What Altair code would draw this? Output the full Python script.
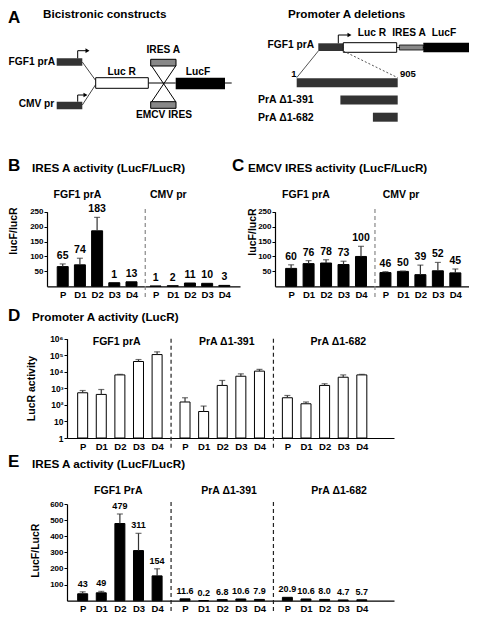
import json
import altair as alt
import numpy as np
import pandas as pd

FONT = "Liberation Sans"
W, H = 461, 605

# ---------------- data ----------------
steps = ["P", "D1", "D2", "D3", "D4"]

# B: IRES A activity (LucF/LucR)
b_groups = ["FGF1 prA", "CMV pr"]
b_val = [[66, 72, 186, 12, 15], [1, 2, 11, 10, 3]]
b_err = [[75, 94, 231, None, None], [None, None, None, None, None]]
b_lab = [["65", "74", "183", "1", "13"], ["1", "2", "11", "10", "3"]]

# C: EMCV IRES activity (LucF/LucR)
c_groups = ["FGF1 prA", "CMV pr"]
c_val = [[60, 76, 78, 73, 100], [46, 50, 39, 52, 45]]
c_err = [[72, 86, 89, 84, 134], [49, 51, 71, 80, 58]]
c_lab = [["60", "76", "78", "73", "100"], ["46", "50", "39", "52", "45"]]

# D: Promoter A activity (LucR), log scale
d_groups = ["FGF1 prA", "PrA  Δ1-391", "PrA  Δ1-682"]
d_val = [[540, 430, 6500, 42000, 110000], [150, 40, 1500, 5400, 11000], [270, 117, 1500, 4700, 6500]]
d_err = [[740, 850, 7000, 55000, 160000], [270, 85, 3000, 7500, 14000], [370, 150, 1900, 6500, 7000]]

# E: IRES A activity (LucF/LucR)
e_groups = ["FGF1 PrA", "PrA  Δ1-391", "PrA  Δ1-682"]
e_val = [[43, 49, 479, 311, 154], [11.6, 0.2, 6.8, 10.6, 7.9], [20.9, 10.6, 8.0, 4.7, 5.7]]
e_err = [[55, 58, 538, 418, 198], [None] * 5, [None] * 5]
e_lab = [["43", "49", "479", "311", "154"], ["11.6", "0.2", "6.8", "10.6", "7.9"],
         ["20.9", "10.6", "8.0", "4.7", "5.7"]]

# A: promoter deletions (bp)
del_names = ["FGF1 prA", "PrA  Δ1-391", "PrA  Δ1-682"]
del_start = [1, 392, 683]
del_end = [905, 905, 905]

log_ticks = [1, 10, 100, 1000, 10000, 100000, 1000000]
log_labels = ["1", "10", "10²", "10³", "10⁴", "10⁵", "10⁶"]


# ---------------- helpers ----------------
def frame(vals, errs, labs, gap):
    rows = []
    for g, vs in enumerate(vals):
        for i, v in enumerate(vs):
            e = errs[g][i]
            rows.append(dict(pos=round(i + g * gap, 2), step=steps[i], val=v,
                             err=np.nan if e is None else e,
                             lab=labs[g][i] if labs else "", base=1))
    df = pd.DataFrame(rows)
    df["top"] = df[["val", "err"]].max(axis=1)
    return df


def T(s, x, y, size=10.5, align="center", baseline="middle", angle=None, weight="bold"):
    kw = dict(align=align, baseline=baseline, fontSize=size, font=FONT,
              fontWeight=weight, color="black")
    if angle is not None:
        kw["angle"] = angle
    return alt.Chart(pd.DataFrame({"t": [s]})).mark_text(**kw).encode(
        x=alt.value(x), y=alt.value(y), text="t:N")


def R(x0, x1, y0, y1, fill, stroke=None, sw=1.0):
    kw = dict(fill=fill)
    if stroke:
        kw.update(stroke=stroke, strokeWidth=sw)
    return alt.Chart(pd.DataFrame({"a": [0]})).mark_rect(**kw).encode(
        x=alt.value(x0), x2=alt.value(x1), y=alt.value(y0), y2=alt.value(y1))


def L(x0, y0, x1, y1, color="black", sw=1.0, dash=None):
    kw = dict(color=color, strokeWidth=sw)
    if dash:
        kw["strokeDash"] = dash
    return alt.Chart(pd.DataFrame({"a": [0]})).mark_rule(**kw).encode(
        x=alt.value(x0), y=alt.value(y0), x2=alt.value(x1), y2=alt.value(y1))


def TRI(x, y, size=22):
    return alt.Chart(pd.DataFrame({"a": [0]})).mark_point(
        shape="triangle-right", filled=True, size=size, color="black", opacity=1
    ).encode(x=alt.value(x), y=alt.value(y))


def bar_panel(df, xdom, xrange, ydom, yrange, yvals, xoff, yoff, divs, div_y, div_color,
              bar_size, bar_fill, logy=False, ylab_expr=None, lab_size=10.5, ytick_size=8):
    xs = alt.Scale(domain=xdom, range=xrange, nice=False, zero=False)
    if logy:
        ys = alt.Scale(type="log", domain=ydom, range=yrange, nice=False)
    else:
        ys = alt.Scale(domain=ydom, range=yrange, nice=False, zero=False)
    m = {f"{p:.2f}": s for p, s in zip(df.pos, df.step)}
    xaxis = alt.Axis(orient="bottom", offset=xoff, values=list(df.pos),
                     labelExpr=json.dumps(m) + "[format(datum.value, '.2f')]",
                     title=None, ticks=False, labelFontSize=9.5, labelFont=FONT,
                     labelFontWeight="bold", labelColor="black", labelPadding=3,
                     labelFlush=False, labelOverlap=False, grid=False,
                     domainColor="black", domainWidth=1.2)
    yargs = dict(orient="left", offset=yoff, values=yvals, title=None, tickSize=3,
                 tickColor="black", tickWidth=1, labelFontSize=ytick_size, labelFont=FONT,
                 labelFontWeight="bold", labelColor="black", labelPadding=1,
                 labelOverlap=False, labelFlush=False, grid=False,
                 domainColor="black", domainWidth=1.2)
    if ylab_expr:
        yargs["labelExpr"] = ylab_expr
    yaxis = alt.Axis(**yargs)
    X = alt.X("pos:Q", scale=xs, axis=xaxis)
    base = alt.Chart(df)
    enc = dict(x=X, y=alt.Y("val:Q", scale=ys, axis=yaxis))
    if logy:
        enc["y2"] = "base:Q"
    bars = base.mark_bar(size=bar_size, fill=bar_fill, stroke="black", strokeWidth=1).encode(**enc)
    dfe = df.dropna(subset=["err"])
    layers = [bars]
    if len(dfe):
        layers.append(alt.Chart(dfe).mark_rule(color="#333", strokeWidth=1.2).encode(
            x=X, y=alt.Y("val:Q", scale=ys, axis=yaxis), y2="err:Q"))
        layers.append(alt.Chart(dfe).mark_tick(orient="horizontal", size=6, thickness=1.2,
                                               color="#333").encode(
            x=X, y=alt.Y("err:Q", scale=ys, axis=yaxis)))
    if (df.lab != "").any():
        layers.append(base.mark_text(dy=-5, baseline="alphabetic", fontSize=lab_size, font=FONT,
                                     fontWeight="bold", color="black").encode(
            x=X, y=alt.Y("top:Q", scale=ys, axis=yaxis), text="lab:N"))
    layers.append(alt.Chart(pd.DataFrame({"d": divs})).mark_rule(
        strokeDash=[4, 3], color=div_color, strokeWidth=1.2).encode(
        x=alt.X("d:Q", scale=xs, axis=xaxis), y=alt.value(div_y[0]), y2=alt.value(div_y[1])))
    return alt.layer(*layers)


layers = []

# ---------------- panel A ----------------
layers += [
    T("A", 0, 2, size=17, align="left", baseline="top"),
    T("Bicistronic constructs", 35, 1, size=11.7, align="left", baseline="top"),
    T("Promoter A deletions", 280, 1, size=11.7, align="left", baseline="top"),
    # left schematic
    T("FGF1 prA", 47, 54, size=10.2, align="right"),
    R(48.7, 74.3, 50.3, 57.7, "#333"),
    L(69.7, 42.7, 69.7, 50.3), L(69.7, 42.7, 78, 42.7), TRI(79.5, 42.7),
    T("CMV pr", 46.3, 96, size=10.2, align="right"),
    R(48.7, 74.3, 93.7, 101.3, "#333"),
    L(69.7, 87, 69.7, 93.7), L(69.7, 87, 76, 87), TRI(77.5, 87),
    L(74.3, 54, 87.7, 72.5, color="#444"), L(74.3, 97, 87.7, 76.5, color="#444"),
    L(140.3, 75, 167.7, 75),
    L(143.7, 58, 167.7, 93.7), L(167.7, 58, 143.7, 93.7),
    R(87.7, 140.3, 69.7, 80.3, "white", "black", 1),
    T("Luc R", 113.7, 63.7, size=10.2),
    R(142.7, 168, 51.3, 58, "#888", "black", 1),
    T("IRES A", 155.3, 42, size=10.2),
    R(142.7, 168, 93.7, 100.3, "#888", "black", 1),
    T("EMCV IRES", 156, 106.5, size=10.2),
    R(167.7, 217, 69.7, 81.3, "black"),
    T("LucF", 190, 63.7, size=10.2),
    L(217, 75, 223.7, 75),
    # right schematic
    T("FGF1 prA", 306, 37, size=10.2, align="right"),
    L(335.3, 39.5, 461, 39.5),
    R(310.3, 335.3, 35.3, 43, "#333"),
    L(330.3, 27, 330.3, 35.3), L(330.3, 27, 340, 27), TRI(341.5, 27),
    R(335.3, 388.7, 34.7, 44.3, "white", "black", 1),
    R(391.3, 415.3, 37, 42, "#888", "black", 0.8),
    R(415.3, 465, 34.7, 44.3, "black"),
    T("Luc R", 364, 25, size=10.2), T("IRES A", 401, 25, size=10.2), T("LucF", 436, 25, size=10.2),
    L(310.3, 43, 288.7, 69.7, color="#555"),
    L(335.3, 43, 389.7, 69.7, color="#555", dash=[2, 2]),
    T("1", 286, 66, size=9.5),
    T("905", 392, 66, size=9.5, align="left"),
    T("PrA  Δ1-391", 250, 92, size=10.5, align="left"),
    T("PrA  Δ1-682", 250, 109.5, size=10.5, align="left"),
]
df_del = pd.DataFrame({"name": del_names, "start": del_start, "end": del_end})
layers.append(alt.Chart(df_del).mark_rule(color="#333", strokeWidth=9).encode(
    x=alt.X("start:Q", scale=alt.Scale(domain=[1, 905], range=[288.7, 389.7], nice=False, zero=False), axis=None),
    x2="end:Q",
    y=alt.Y("name:N", scale=alt.Scale(type="point", domain=del_names, range=[74.8, 109.2], padding=0), axis=None),
))

# ---------------- panel B ----------------
dfb = frame(b_val, b_err, b_lab, 5.4)
layers.append(bar_panel(dfb, [-0.623, 10.02], [39, 232], [0, 250], [278.3, 203.7],
                        [50, 100, 150, 200, 250], 278.3 - H, -39, [4.8], (201, 291), "#888",
                        11, "black"))
layers += [
    T("B", 0, 163, size=17, align="left", baseline="alphabetic"),
    T("IRES A activity (LucF/LucR)", 24, 164, size=11.7, align="left", baseline="alphabetic"),
    T(b_groups[0], 69.5, 187, size=10.5), T(b_groups[1], 160.3, 187, size=10.5),
    T("lucF/lucR", 6, 223, size=10.5, angle=270),
]

# ---------------- panel C ----------------
dfc = frame(c_val, c_err, c_lab, 5.4)
layers.append(bar_panel(dfc, [-0.636, 10.125], [267, 465], [0, 250], [278.3, 203.7],
                        [50, 100, 150, 200, 250], 278.3 - H, -267, [4.8], (201, 291), "#888",
                        11, "black"))
layers += [
    T("C", 224, 163, size=17, align="left", baseline="alphabetic"),
    T("EMCV IRES activity (LucF/LucR)", 240, 164, size=11.7, align="left", baseline="alphabetic"),
    T(c_groups[0], 298, 187, size=10.5), T(c_groups[1], 393, 187, size=10.5),
    T("lucF/lucR", 245, 224, size=10.5, angle=270),
]

# ---------------- panel D ----------------
dfd = frame(d_val, d_err, None, 5.5)
lmap = {str(v): s for v, s in zip(log_ticks, log_labels)}
layers.append(bar_panel(dfd, [-0.573, 16.46], [59, 386], [1, 1000000], [430, 330.7],
                        log_ticks, 430 - H, -59, [4.75, 10.25], (330.7, 441), "#222",
                        10, "white", logy=True,
                        ylab_expr=json.dumps(lmap, ensure_ascii=False) + "[datum.value + '']",
                        ytick_size=8.5))
layers += [
    T("D", 0, 313, size=17, align="left", baseline="alphabetic"),
    T("Promoter A activity (LucR)", 24, 312.5, size=11.7, align="left", baseline="alphabetic"),
    T(d_groups[0], 108.7, 333.5, size=10.5), T(d_groups[1], 218.7, 333.5, size=10.5),
    T(d_groups[2], 330.3, 333.5, size=10.5),
    T("LucR activity", 24, 380.5, size=10.5, angle=270),
]

# ---------------- panel E ----------------
dfe_ = frame(e_val, e_err, e_lab, 5.5)
layers.append(bar_panel(dfe_, [-0.573, 16.46], [59, 386], [0, 600], [592.7, 496],
                        [100, 200, 300, 400, 500, 600], 592.7 - H, -59, [4.75, 10.25], (494, 605),
                        "#222", 10, "black", lab_size=9))
layers += [
    T("E", 0, 459.3, size=17, align="left", baseline="alphabetic"),
    T("IRES A activity (LucF/LucR)", 24, 460, size=11.7, align="left", baseline="alphabetic"),
    T(e_groups[0], 110.3, 482.7, size=10.5), T(e_groups[1], 221, 482.7, size=10.5),
    T(e_groups[2], 331, 482.7, size=10.5),
    T("LucF/LucR", 28, 542.7, size=10.5, angle=270),
]

chart = (
    alt.layer(*layers)
    .resolve_scale(x="independent", y="independent")
    .properties(width=W, height=H, padding=0, autosize=alt.AutoSizeParams(type="none"))
    .configure_view(stroke=None)
)

chart.save("out.html", embed_options={"renderer": "svg", "actions": False})
